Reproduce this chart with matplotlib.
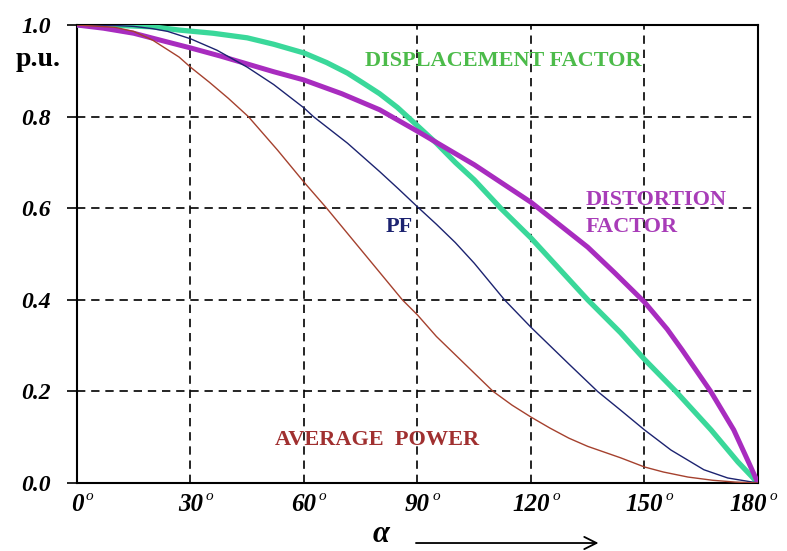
import matplotlib
matplotlib.use("Agg")
import matplotlib.pyplot as plt

# -- DATA (firing angle in degrees, value in p.u.) -- #
angle_df = [0, 10, 20, 27, 36, 45, 52, 60, 66, 71.5, 75.7, 80, 84.7, 90, 95, 100,
            105, 112, 120, 127, 135, 143.7, 150, 158.3, 167.6, 174.7, 180]
disp_factor = [1.0, 0.9995, 0.996, 0.989, 0.982, 0.972, 0.958, 0.939, 0.918, 0.895,
               0.873, 0.85, 0.82, 0.78, 0.742, 0.70, 0.662, 0.60, 0.535, 0.472, 0.40,
               0.328, 0.27, 0.20, 0.116, 0.046, 0.0]

angle_dist = [0, 7, 15, 22, 30, 38, 45, 52, 60, 70, 80, 90, 105, 120, 135, 142, 150,
              156, 160, 167.5, 173.6, 177.6, 180]
dist_factor = [1.0, 0.993, 0.982, 0.967, 0.95, 0.932, 0.915, 0.898, 0.88, 0.85, 0.815,
               0.768, 0.695, 0.613, 0.515, 0.46, 0.395, 0.336, 0.29, 0.20, 0.116,
               0.044, 0.0]

angle_pf = [0, 10, 15, 20, 24, 27, 30, 37, 45, 52, 60, 62.5, 71.5, 80, 85, 90, 95,
            100, 105, 110, 113, 120, 125, 130, 137.6, 143.7, 150, 157, 165.7, 172, 180]
pf = [1.0, 0.999, 0.997, 0.992, 0.986, 0.978, 0.97, 0.945, 0.908, 0.87, 0.819, 0.80,
      0.742, 0.68, 0.642, 0.603, 0.565, 0.525, 0.48, 0.43, 0.40, 0.34, 0.30, 0.26,
      0.20, 0.159, 0.116, 0.072, 0.029, 0.011, 0.0]

angle_pw = [0, 10, 15, 20, 27, 30, 35, 40, 45.3, 53, 60, 66, 70, 75, 80, 86, 90, 95,
            100, 105, 110, 115, 120, 125, 130, 135, 143.7, 150, 155, 161.5, 168, 174, 180]
avg_power = [1.0, 0.995, 0.986, 0.967, 0.93, 0.908, 0.875, 0.84, 0.80, 0.727, 0.657,
             0.60, 0.56, 0.51, 0.46, 0.40, 0.367, 0.32, 0.28, 0.24, 0.20, 0.17, 0.144,
             0.12, 0.098, 0.08, 0.055, 0.035, 0.024, 0.013, 0.006, 0.002, 0.0]

xticks = [0, 30, 60, 90, 120, 150, 180]
xlabels = ["0", "30", "60", "90", "120", "150", "180"]
yticks = [0.0, 0.2, 0.4, 0.6, 0.8, 1.0]
ylabels = ["0.0", "0.2", "0.4", "0.6", "0.8", "1.0"]

serif = ["Liberation Serif", "DejaVu Serif"]

fig = plt.figure(figsize=(7.87, 5.51), dpi=100)
ax = fig.add_axes([0.0978, 0.1234, 0.8653, 0.8312])

ax.plot(angle_df, disp_factor, color="#3ad89a", lw=3.8, solid_capstyle="round", zorder=3)
ax.plot(angle_dist, dist_factor, color="#a82cbf", lw=3.6, solid_capstyle="round", zorder=4)
ax.plot(angle_pf, pf, color="#1c2370", lw=1.0, zorder=5)
ax.plot(angle_pw, avg_power, color="#a5412e", lw=1.0, zorder=5)

ax.set_xlim(0, 180)
ax.set_ylim(0, 1.0)
ax.set_xticks(xticks)
ax.set_yticks(yticks)
ax.set_xticklabels([])
ax.set_yticklabels(ylabels, family=serif, fontsize=17, fontweight="bold", style="italic")
ax.tick_params(axis="x", length=0)
ax.tick_params(axis="y", direction="out", length=7, width=1.2, pad=12)
ax.grid(True, color="black", linestyle=(0, (5, 3.5)), linewidth=1.2)
for s in ax.spines.values():
    s.set_linewidth(1.5)

# x tick labels: digits centred on the grid line, small raised "o" after them
for xv, lab in zip(xticks, xlabels):
    shift = -7 if xv == 180 else 0
    ax.annotate(lab, (xv, 0), xycoords=("data", "axes fraction"),
                xytext=(shift, -7), textcoords="offset points", ha="center", va="top",
                family=serif, fontsize=18, fontweight="bold", style="italic",
                annotation_clip=False)
    ax.annotate("o", (xv, 0), xycoords=("data", "axes fraction"),
                xytext=(shift + len(lab) * 4.6 + 1.5, -5), textcoords="offset points",
                ha="left", va="top", family=serif, fontsize=11, style="italic",
                annotation_clip=False)

ax.text(-0.0897, 0.924, "p.u.", transform=ax.transAxes, family=serif, fontsize=20,
        fontweight="bold", ha="left", va="center")

# curve labels
ax.text(76.2, 0.91, "DISPLACEMENT FACTOR", color="#4cbb4a", family=serif,
        fontsize=16, fontweight="bold", ha="left", va="baseline")
ax.text(134.5, 0.607, "DISTORTION", color="#a83cb8", family=serif,
        fontsize=16, fontweight="bold", ha="left", va="baseline")
ax.text(134.5, 0.548, "FACTOR", color="#a83cb8", family=serif,
        fontsize=16, fontweight="bold", ha="left", va="baseline")
ax.text(81.5, 0.548, "PF", color="#1c2370", family=serif, fontsize=16,
        fontweight="bold", ha="left", va="baseline")
ax.text(52.4, 0.083, "AVERAGE  POWER", color="#a03030", family=serif,
        fontsize=16, fontweight="bold", ha="left", va="baseline")

# alpha with arrow below the axis
fig.text(0.484, 0.004, "α", family=serif, fontsize=22, style="italic",
         fontweight="bold", ha="center", va="bottom")
ax.annotate("", xy=(0.764, 0.0145), xytext=(0.525, 0.0145), xycoords="figure fraction",
            arrowprops=dict(arrowstyle="->", lw=1.3, color="black",
                            mutation_scale=22))

fig.savefig("out.png", dpi=100, facecolor="white")
